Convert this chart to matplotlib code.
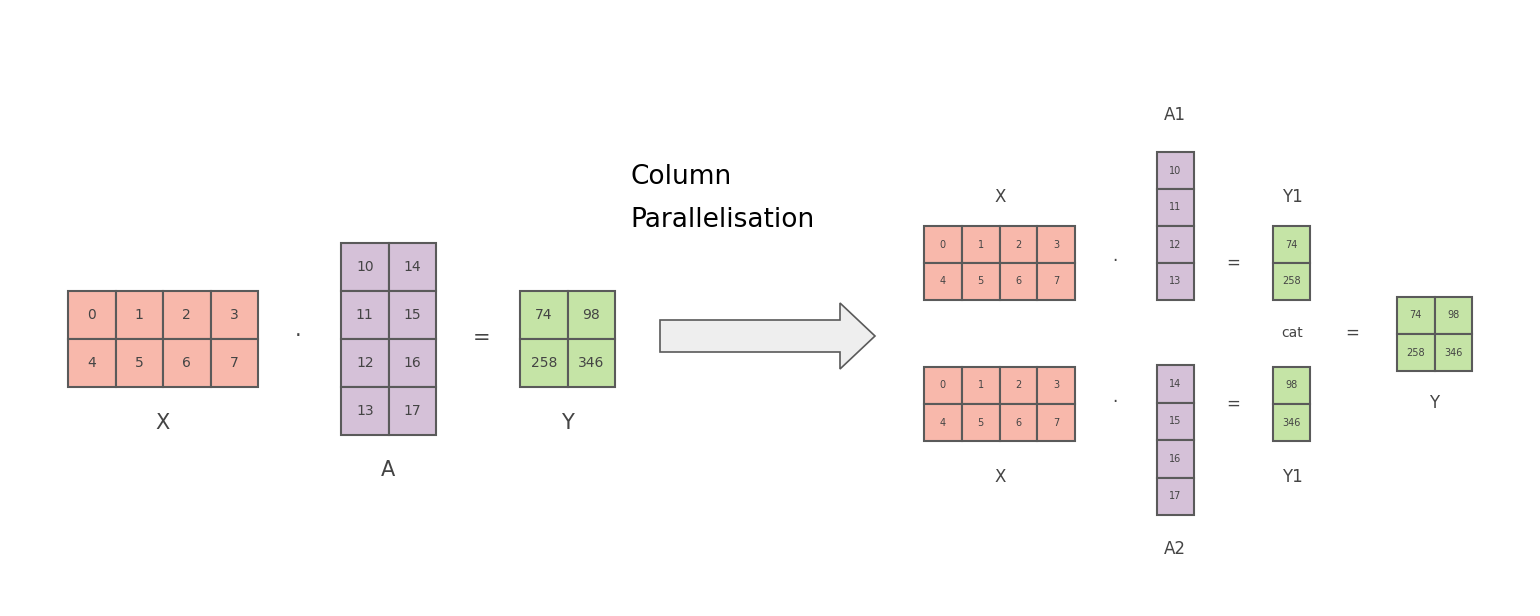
import matplotlib
matplotlib.use("Agg")
import matplotlib.pyplot as plt
from matplotlib.patches import Rectangle, Polygon

X_vals = [[0, 1, 2, 3], [4, 5, 6, 7]]
A_vals = [[10, 14], [11, 15], [12, 16], [13, 17]]
Y_vals = [[74, 98], [258, 346]]
A1_vals = [[10], [11], [12], [13]]
A2_vals = [[14], [15], [16], [17]]
Y1_vals = [[74], [258]]
Y2_vals = [[98], [346]]

PINK, PURPLE, GREEN = "#f8b8ab", "#d5c1d8", "#c5e4a6"
EDGE = "#5a5a5a"
TXT = "#444444"

fig = plt.figure(figsize=(15.4, 6.16), dpi=100)
ax = fig.add_axes([0, 0, 1, 1])
ax.set_xlim(0, 1540); ax.set_ylim(616, 0); ax.axis("off")

def matrix(vals, x0, y0, w, h, color, fs):
    for r, row in enumerate(vals):
        for c, v in enumerate(row):
            ax.add_patch(Rectangle((x0 + c*w, y0 + r*h), w, h, fc=color, ec=EDGE, lw=1.5))
            ax.text(x0 + c*w + w/2, y0 + r*h + h/2, str(v), ha="center", va="center", fontsize=fs, color=TXT)

def label(x, y, s, fs=15):
    ax.text(x, y, s, ha="center", va="center", fontsize=fs, color=TXT)

# left
matrix(X_vals, 68, 291, 47.5, 48, PINK, 10)
label(163, 423, "X")
label(298, 336, "·")
matrix(A_vals, 341, 243, 47.5, 48, PURPLE, 10)
label(388, 470, "A")
label(482, 338, "=")
matrix(Y_vals, 520, 291, 47.5, 48, GREEN, 10)
label(567, 423, "Y")

# arrow
ax.add_patch(Polygon([(660, 320), (840, 320), (840, 303), (875, 336), (840, 369), (840, 352), (660, 352)],
                     closed=True, fc="#eeeeee", ec=EDGE, lw=1.2))
ax.text(630, 177, "Column", ha="left", va="center", fontsize=19, color="black")
ax.text(630, 220, "Parallelisation", ha="left", va="center", fontsize=19, color="black")

# right top
w = 37.75
matrix(X_vals, 924, 226, w, 37, PINK, 7)
label(1000, 197, "X", 12)
label(1115, 261, "·", 12)
matrix(A1_vals, 1157, 152, 37, 37, PURPLE, 7)
label(1175, 115, "A1", 12)
label(1233, 263, "=", 12)
matrix(Y1_vals, 1273, 226, 37, 37, GREEN, 7)
label(1292, 197, "Y1", 12)

# right bottom
matrix(X_vals, 924, 367, w, 37, PINK, 7)
label(1000, 477, "X", 12)
label(1115, 402, "·", 12)
matrix(A2_vals, 1157, 365, 37, 37.5, PURPLE, 7)
label(1175, 549, "A2", 12)
label(1233, 404, "=", 12)
matrix(Y2_vals, 1273, 367, 37, 37, GREEN, 7)
label(1292, 477, "Y1", 12)

label(1292, 333, "cat", 10)
label(1352, 333, "=", 12)
matrix(Y_vals, 1397, 297, 37.5, 37, GREEN, 7)
label(1434, 403, "Y", 12)

fig.savefig("out.png", dpi=100, facecolor="white")
